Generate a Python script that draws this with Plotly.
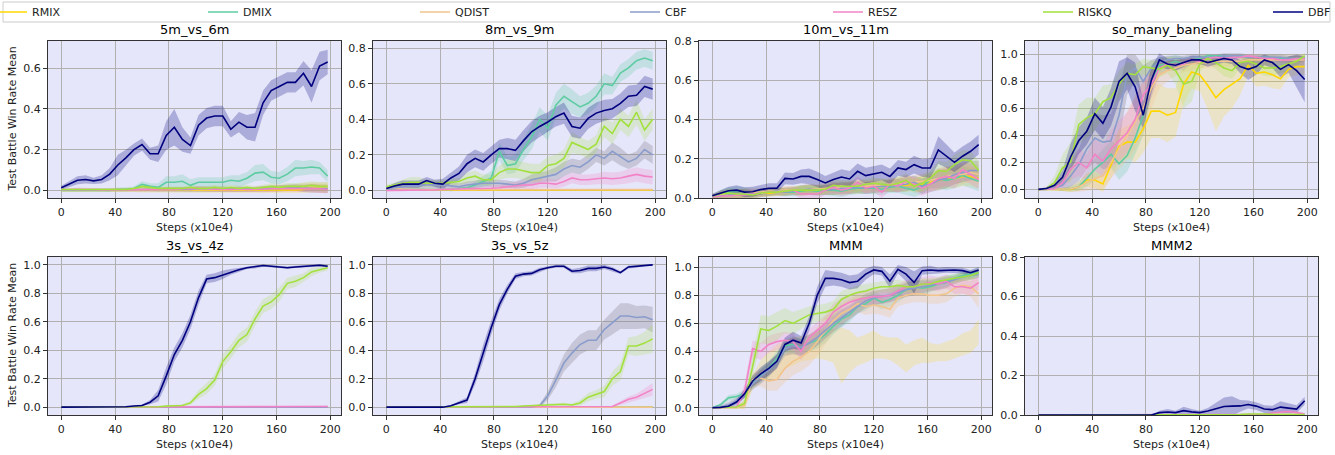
import plotly.graph_objects as go

W, H = 1335, 455
FONT = "DejaVu Sans"

# ---------------- data ----------------
X = list(range(0, 199, 6))  # steps (x10e4), 34 points
ZEROS = [0.0] * 34
METHODS = ["RMIX", "DMIX", "QDIST", "CBF", "RESZ", "RISKQ", "DBF"]
TITLES = ["5m_vs_6m", "8m_vs_9m", "10m_vs_11m", "so_many_baneling",
          "3s_vs_4z", "3s_vs_5z", "MMM", "MMM2"]
X_TICKS = [0, 40, 80, 120, 160, 200]

# --- 5m_vs_6m ---
P1_DBF = [0.013,0.03,0.05,0.054,0.047,0.054,0.08,0.125,0.16,0.20,0.225,0.18,0.18,0.27,0.31,0.25,0.22,0.32,0.355,0.365,0.365,0.30,0.335,0.31,0.31,0.43,0.49,0.51,0.53,0.53,0.575,0.51,0.61,0.63]
P1_DBF_SD = [0.01,0.015,0.02,0.02,0.015,0.02,0.03,0.05,0.04,0.03,0.03,0.03,0.04,0.07,0.09,0.06,0.04,0.05,0.05,0.05,0.05,0.04,0.05,0.06,0.07,0.06,0.05,0.05,0.05,0.05,0.06,0.08,0.07,0.06]
P1_DMIX = [0,0,0,0,0,0,0,0.005,0.005,0.01,0.03,0.02,0.015,0.04,0.04,0.045,0.025,0.04,0.04,0.04,0.04,0.05,0.045,0.06,0.085,0.09,0.065,0.06,0.08,0.11,0.11,0.115,0.11,0.07]
P1_DMIX_SD = [0.005,0.005,0.005,0.005,0.005,0.005,0.005,0.01,0.01,0.01,0.015,0.015,0.02,0.03,0.03,0.035,0.03,0.025,0.025,0.025,0.025,0.025,0.03,0.03,0.04,0.04,0.03,0.03,0.035,0.04,0.035,0.035,0.03,0.03]
P1_RISKQ = [0.005,0.005,0.005,0.005,0.005,0.005,0.005,0.005,0.005,0.01,0.02,0.015,0.01,0.01,0.01,0.01,0.015,0.01,0.01,0.015,0.01,0.015,0.01,0.015,0.01,0.015,0.02,0.015,0.02,0.02,0.02,0.025,0.02,0.02]
P1_RESZ = [0.005,0.005,0.008,0.005,0.005,0.003,0.003,0.003,0.003,0.003,0.005,0.005,0.005,0.005,0.005,0.008,0.01,0.01,0.008,0.005,0.005,0.005,0.008,0.005,0.005,0.005,0.008,0.01,0.01,0.008,0.01,0.01,0.008,0.005]
P1_CBF = [0.003,0.003,0.003,0.003,0.003,0.003,0.003,0.003,0.003,0.003,0.005,0.005,0.005,0.005,0.005,0.005,0.005,0.008,0.008,0.005,0.005,0.005,0.005,0.005,0.005,0.008,0.01,0.01,0.015,0.015,0.01,0.01,0.008,0.008]
P1_RMIX = [0,0,0,0,0,0,0,0,0,0,0,0,0,0,0,0,0,0,0,0,0,0.002,0.002,0.002,0.002,0.002,0.003,0.003,0.003,0.003,0.005,0.01,0.01,0.008]
P1_QDIST = [0.002,0.002,0.002,0.002,0.002,0.002,0.002,0.002,0.002,0.002,0.003,0.003,0.003,0.005,0.005,0.005,0.005,0.005,0.005,0.005,0.005,0.005,0.005,0.005,0.005,0.008,0.01,0.01,0.012,0.015,0.02,0.02,0.02,0.02]
P1_SMALL_SD = [0.005,0.005,0.006,0.006,0.006,0.006,0.007,0.007,0.008,0.008,0.01,0.01,0.01,0.01,0.01,0.01,0.012,0.012,0.012,0.012,0.012,0.012,0.012,0.012,0.012,0.014,0.015,0.015,0.016,0.016,0.018,0.02,0.02,0.02]

# --- 8m_vs_9m ---
P2_DBF = [0.01,0.025,0.035,0.035,0.035,0.055,0.04,0.035,0.07,0.095,0.15,0.18,0.16,0.20,0.235,0.235,0.225,0.28,0.33,0.36,0.385,0.415,0.435,0.36,0.35,0.405,0.435,0.45,0.46,0.49,0.53,0.535,0.585,0.57]
P2_DBF_SD = [0.01,0.015,0.02,0.02,0.02,0.02,0.02,0.03,0.03,0.04,0.05,0.05,0.05,0.05,0.05,0.06,0.06,0.06,0.06,0.06,0.055,0.055,0.06,0.06,0.06,0.06,0.06,0.06,0.055,0.055,0.06,0.06,0.06,0.06]
P2_DMIX = [0.005,0.005,0.005,0.005,0.005,0.005,0.005,0.005,0.005,0.01,0.015,0.03,0.05,0.07,0.22,0.14,0.15,0.23,0.30,0.40,0.35,0.48,0.53,0.50,0.47,0.49,0.53,0.60,0.59,0.66,0.69,0.73,0.745,0.73]
P2_DMIX_SD = [0.005,0.005,0.005,0.005,0.005,0.005,0.005,0.005,0.01,0.01,0.01,0.02,0.03,0.04,0.05,0.05,0.05,0.06,0.07,0.07,0.07,0.07,0.07,0.07,0.06,0.06,0.06,0.06,0.05,0.05,0.05,0.05,0.05,0.05]
P2_RISKQ = [0.02,0.03,0.04,0.045,0.045,0.04,0.04,0.04,0.045,0.05,0.07,0.08,0.06,0.06,0.10,0.12,0.12,0.11,0.10,0.10,0.14,0.15,0.18,0.27,0.25,0.23,0.26,0.36,0.32,0.40,0.36,0.44,0.34,0.40]
P2_RISKQ_SD = [0.01,0.015,0.02,0.03,0.03,0.02,0.02,0.02,0.02,0.02,0.03,0.03,0.03,0.03,0.04,0.05,0.05,0.05,0.05,0.05,0.05,0.05,0.05,0.06,0.05,0.05,0.05,0.06,0.06,0.06,0.06,0.07,0.06,0.06]
P2_CBF = [0.01,0.015,0.02,0.025,0.025,0.03,0.03,0.03,0.025,0.02,0.03,0.035,0.04,0.04,0.04,0.035,0.03,0.04,0.06,0.07,0.08,0.09,0.12,0.14,0.13,0.16,0.20,0.18,0.22,0.19,0.16,0.18,0.23,0.20]
P2_CBF_SD = [0.01,0.01,0.015,0.02,0.02,0.02,0.02,0.02,0.02,0.02,0.02,0.02,0.02,0.02,0.02,0.02,0.02,0.025,0.03,0.03,0.03,0.04,0.04,0.04,0.04,0.04,0.04,0.04,0.05,0.05,0.04,0.04,0.05,0.05]
P2_RESZ = [0.0,0.0,0.0,0.0,0.0,0.003,0.003,0.005,0.005,0.008,0.01,0.01,0.01,0.012,0.015,0.02,0.025,0.03,0.03,0.04,0.04,0.035,0.05,0.07,0.06,0.06,0.065,0.07,0.065,0.07,0.08,0.09,0.08,0.075]
P2_RESZ_SD = [0.005,0.005,0.005,0.005,0.005,0.005,0.005,0.005,0.01,0.01,0.01,0.01,0.01,0.015,0.015,0.02,0.02,0.02,0.025,0.025,0.025,0.025,0.03,0.03,0.03,0.03,0.03,0.035,0.035,0.035,0.04,0.04,0.04,0.04]
P2_RMIX = [0.005,0.003,0.002,0.002,0.002,0.002,0.002,0.002,0.002,0.002,0.002,0.002,0.002,0.002,0.002,0.002,0.002,0.002,0.002,0.002,0.002,0.002,0.002,0.002,0.002,0.002,0.002,0.002,0.002,0.002,0.002,0.002,0.002,0.002]
P2_QDIST = [0.015,0.01,0.008,0.006,0.005,0.005,0.005,0.005,0.005,0.005,0.005,0.005,0.005,0.005,0.005,0.005,0.005,0.005,0.005,0.005,0.005,0.005,0.005,0.005,0.005,0.005,0.005,0.005,0.005,0.005,0.005,0.005,0.005,0.005]
P2_SMALL_SD = [0.006,0.005,0.004,0.004,0.003,0.003,0.003,0.003,0.003,0.003,0.003,0.003,0.003,0.003,0.003,0.003,0.003,0.003,0.003,0.003,0.003,0.003,0.003,0.003,0.003,0.003,0.003,0.003,0.003,0.003,0.003,0.003,0.003,0.003]

# --- 10m_vs_11m ---
P3_DBF = [0.012,0.025,0.037,0.04,0.03,0.032,0.043,0.05,0.05,0.10,0.097,0.11,0.11,0.094,0.077,0.094,0.107,0.097,0.136,0.114,0.124,0.131,0.11,0.153,0.145,0.17,0.153,0.153,0.245,0.213,0.182,0.213,0.238,0.272]
P3_DBF_SD = [0.01,0.015,0.02,0.025,0.025,0.025,0.025,0.025,0.025,0.03,0.03,0.035,0.04,0.04,0.035,0.035,0.04,0.04,0.04,0.04,0.04,0.04,0.04,0.04,0.04,0.045,0.045,0.05,0.07,0.06,0.05,0.05,0.05,0.05]
P3_RISKQ = [0.01,0.02,0.025,0.02,0.02,0.015,0.025,0.03,0.03,0.035,0.04,0.04,0.04,0.04,0.045,0.065,0.06,0.06,0.06,0.07,0.075,0.07,0.065,0.075,0.09,0.06,0.075,0.10,0.14,0.135,0.17,0.195,0.19,0.14]
P3_MID_SD = [0.01,0.02,0.025,0.025,0.025,0.02,0.02,0.02,0.02,0.02,0.02,0.025,0.025,0.025,0.025,0.03,0.03,0.03,0.03,0.03,0.03,0.03,0.03,0.035,0.035,0.035,0.04,0.04,0.05,0.05,0.05,0.05,0.05,0.05]
P3_RESZ = [0.005,0.01,0.01,0.015,0.015,0.02,0.025,0.03,0.03,0.035,0.04,0.02,0.02,0.02,0.04,0.055,0.04,0.05,0.08,0.05,0.06,0.03,0.07,0.06,0.085,0.07,0.05,0.07,0.10,0.11,0.10,0.145,0.12,0.095]
P3_DMIX = [0.005,0.02,0.03,0.035,0.03,0.025,0.03,0.03,0.035,0.03,0.03,0.035,0.04,0.035,0.04,0.04,0.035,0.045,0.05,0.05,0.05,0.045,0.055,0.06,0.05,0.04,0.06,0.09,0.10,0.09,0.10,0.115,0.10,0.085]
P3_CBF = [0.005,0.01,0.015,0.02,0.02,0.02,0.025,0.03,0.035,0.03,0.035,0.04,0.045,0.04,0.04,0.045,0.05,0.05,0.055,0.05,0.055,0.06,0.06,0.065,0.07,0.08,0.06,0.07,0.09,0.10,0.12,0.13,0.14,0.14]
P3_QDIST = [0.005,0.015,0.02,0.02,0.025,0.03,0.03,0.035,0.035,0.04,0.04,0.04,0.045,0.045,0.05,0.05,0.055,0.055,0.06,0.06,0.065,0.065,0.07,0.07,0.075,0.08,0.085,0.09,0.10,0.11,0.12,0.12,0.13,0.12]
P3_RMIX = [0.005,0.01,0.015,0.015,0.02,0.02,0.025,0.025,0.03,0.03,0.035,0.035,0.04,0.04,0.04,0.045,0.045,0.05,0.05,0.055,0.055,0.06,0.06,0.065,0.065,0.07,0.07,0.08,0.09,0.10,0.10,0.11,0.11,0.10]

# --- so_many_baneling ---
P4_DBF = [0.0,0.007,0.03,0.09,0.24,0.36,0.43,0.56,0.49,0.61,0.80,0.86,0.76,0.55,0.81,0.96,0.93,0.92,0.94,0.96,0.96,0.94,0.955,0.97,0.96,0.91,0.89,0.91,0.96,0.94,0.89,0.925,0.88,0.815]
P4_DBF_SD = [0.005,0.01,0.02,0.05,0.1,0.1,0.1,0.12,0.12,0.14,0.15,0.12,0.18,0.1,0.1,0.05,0.04,0.04,0.03,0.03,0.03,0.03,0.03,0.03,0.03,0.05,0.08,0.06,0.04,0.04,0.06,0.06,0.12,0.17]
P4_RISKQ = [0.0,0.005,0.05,0.16,0.2,0.48,0.53,0.56,0.65,0.68,0.78,0.86,0.85,0.91,0.9,0.89,0.92,0.88,0.78,0.80,0.93,0.97,0.94,0.90,0.88,0.94,0.95,0.93,0.90,0.90,0.91,0.93,0.95,0.99]
P4_RISKQ_SD = [0.005,0.01,0.05,0.1,0.15,0.15,0.15,0.12,0.12,0.1,0.1,0.08,0.08,0.06,0.06,0.06,0.06,0.1,0.18,0.15,0.06,0.03,0.05,0.06,0.06,0.04,0.04,0.05,0.06,0.06,0.05,0.05,0.04,0.02]
P4_RMIX = [0,0,0,0,0,0.02,0.07,0.07,0.04,0.18,0.32,0.35,0.35,0.45,0.58,0.58,0.55,0.57,0.78,0.87,0.85,0.77,0.68,0.74,0.78,0.82,0.92,0.86,0.87,0.85,0.82,0.89,0.91,0.91]
P4_RMIX_SD = [0.005,0.005,0.005,0.01,0.02,0.03,0.05,0.06,0.06,0.1,0.12,0.12,0.15,0.18,0.2,0.2,0.2,0.18,0.15,0.12,0.12,0.18,0.25,0.2,0.18,0.12,0.08,0.1,0.1,0.1,0.08,0.06,0.06,0.06]
P4_DMIX = [0,0,0,0,0.005,0.02,0.08,0.15,0.2,0.26,0.19,0.25,0.38,0.55,0.8,0.92,0.93,0.95,0.93,0.96,0.97,0.99,0.99,0.99,0.99,0.99,0.98,0.98,0.98,0.98,0.97,0.97,0.97,0.97]
P4_DMIX_SD = [0.005,0.005,0.005,0.01,0.02,0.03,0.06,0.08,0.1,0.1,0.12,0.12,0.12,0.15,0.12,0.06,0.05,0.05,0.05,0.03,0.02,0.01,0.01,0.01,0.01,0.01,0.02,0.02,0.02,0.02,0.02,0.02,0.02,0.02]
P4_RESZ = [0,0,0.005,0.05,0.15,0.2,0.16,0.26,0.21,0.3,0.36,0.42,0.52,0.7,0.78,0.9,0.93,0.92,0.93,0.96,0.95,0.97,0.98,0.97,0.98,0.98,0.99,0.98,0.97,0.97,0.96,0.96,0.97,0.97]
P4_RESZ_SD = [0.005,0.005,0.01,0.05,0.08,0.1,0.1,0.12,0.12,0.14,0.15,0.15,0.15,0.12,0.1,0.06,0.04,0.04,0.04,0.03,0.03,0.02,0.02,0.02,0.02,0.02,0.01,0.02,0.02,0.02,0.02,0.02,0.02,0.02]
P4_CBF = [0,0,0.01,0.03,0.1,0.18,0.3,0.38,0.35,0.36,0.55,0.85,0.9,0.8,0.9,0.94,0.96,0.97,0.97,0.98,0.98,0.98,0.98,0.99,0.99,0.99,0.98,0.98,0.98,0.98,0.98,0.97,0.97,0.97]
P4_CBF_SD = [0.005,0.005,0.01,0.04,0.08,0.12,0.15,0.18,0.2,0.2,0.2,0.15,0.1,0.12,0.06,0.04,0.03,0.02,0.02,0.02,0.02,0.02,0.02,0.02,0.02,0.02,0.02,0.02,0.02,0.02,0.02,0.02,0.02,0.02]
P4_QDIST = [0,0,0,0,0.005,0.02,0.05,0.08,0.1,0.2,0.3,0.4,0.5,0.6,0.75,0.85,0.88,0.9,0.92,0.93,0.94,0.94,0.95,0.95,0.95,0.95,0.96,0.96,0.96,0.96,0.96,0.96,0.96,0.96]
P4_QDIST_SD = [0.005,0.005,0.005,0.01,0.02,0.04,0.06,0.08,0.1,0.12,0.15,0.18,0.2,0.2,0.15,0.1,0.08,0.06,0.05,0.05,0.04,0.04,0.04,0.04,0.04,0.04,0.04,0.04,0.04,0.04,0.04,0.04,0.04,0.04]

# --- 3s_vs_4z ---
P5_DBF = [0,0,0,0,0,0,0,0,0.003,0.008,0.012,0.035,0.08,0.22,0.37,0.47,0.60,0.77,0.90,0.91,0.93,0.95,0.965,0.98,0.985,0.995,0.99,0.985,0.98,0.985,0.99,0.995,0.997,0.99]
P5_DBF_SD = [0,0,0,0,0,0,0,0,0.002,0.004,0.006,0.015,0.04,0.06,0.05,0.05,0.05,0.05,0.03,0.03,0.03,0.02,0.015,0.01,0.01,0.008,0.008,0.008,0.008,0.008,0.008,0.008,0.008,0.008]
P5_RISKQ = [0,0,0,0,0,0,0,0,0,0,0,0,0.003,0.007,0.01,0.012,0.03,0.09,0.13,0.19,0.32,0.39,0.47,0.51,0.62,0.71,0.74,0.79,0.87,0.885,0.91,0.95,0.965,0.98]
P5_RISKQ_SD = [0,0,0,0,0,0,0,0,0,0,0,0,0.002,0.004,0.005,0.008,0.015,0.03,0.04,0.04,0.05,0.05,0.05,0.05,0.05,0.05,0.05,0.05,0.04,0.04,0.03,0.03,0.02,0.02]
P5_RESZ = [0,0,0,0,0,0,0,0,0,0,0,0,0,0.001,0.001,0.001,0.002,0.002,0.002,0.002,0.002,0.002,0.002,0.002,0.003,0.003,0.003,0.003,0.003,0.004,0.004,0.004,0.005,0.005]
P5_SMALL_SD = [0,0,0,0,0,0,0,0,0,0,0,0,0,0.002,0.002,0.002,0.003,0.003,0.003,0.003,0.003,0.003,0.003,0.003,0.004,0.004,0.004,0.004,0.004,0.005,0.005,0.005,0.006,0.006]

# --- 3s_vs_5z ---
P6_DBF = [0,0,0,0,0,0,0,0,0.01,0.03,0.05,0.2,0.38,0.56,0.72,0.83,0.92,0.935,0.94,0.965,0.98,0.99,0.99,0.955,0.96,0.975,0.975,0.985,0.97,0.945,0.985,0.99,0.997,1.0]
P6_DBF_SD = [0,0,0,0,0,0,0,0,0.005,0.01,0.02,0.04,0.06,0.05,0.04,0.03,0.02,0.015,0.015,0.015,0.01,0.01,0.01,0.015,0.02,0.02,0.02,0.015,0.015,0.01,0.01,0.01,0.005,0.005]
P6_CBF = [0,0,0,0,0,0,0,0,0,0,0,0,0,0,0,0,0,0,0.002,0.01,0.08,0.19,0.31,0.38,0.44,0.47,0.47,0.545,0.59,0.64,0.64,0.63,0.635,0.615]
P6_CBF_SD = [0,0,0,0,0,0,0,0,0,0,0,0,0,0,0,0,0,0,0.002,0.01,0.03,0.05,0.06,0.07,0.07,0.07,0.07,0.07,0.08,0.09,0.09,0.08,0.08,0.09]
P6_RISKQ = [0,0,0,0,0,0,0,0,0,0,0,0,0,0,0,0,0.005,0.008,0.01,0.012,0.015,0.02,0.02,0.015,0.03,0.07,0.09,0.11,0.2,0.25,0.43,0.43,0.45,0.48]
P6_RISKQ_SD = [0,0,0,0,0,0,0,0,0,0,0,0,0,0,0,0,0.003,0.005,0.005,0.008,0.01,0.01,0.01,0.01,0.02,0.03,0.03,0.04,0.05,0.06,0.06,0.07,0.08,0.1]
P6_RESZ = [0,0,0,0,0,0,0,0,0,0,0,0,0,0,0,0,0,0,0,0,0,0,0,0,0,0,0,0,0.005,0.03,0.055,0.07,0.1,0.125]
P6_RESZ_SD = [0,0,0,0,0,0,0,0,0,0,0,0,0,0,0,0,0,0,0,0,0,0,0,0,0,0,0,0,0.005,0.015,0.02,0.025,0.035,0.045]

# --- MMM ---
P7_DBF = [0,0.002,0.01,0.04,0.1,0.19,0.24,0.28,0.33,0.45,0.48,0.46,0.6,0.8,0.92,0.92,0.91,0.89,0.9,0.95,0.98,0.97,0.9,0.985,0.95,0.89,0.975,0.98,0.975,0.98,0.98,0.975,0.96,0.98]
P7_DBF_SD = [0.002,0.005,0.01,0.02,0.03,0.04,0.05,0.05,0.05,0.05,0.06,0.05,0.05,0.06,0.06,0.05,0.05,0.05,0.05,0.04,0.03,0.03,0.05,0.03,0.05,0.08,0.03,0.03,0.02,0.02,0.02,0.02,0.02,0.02]
P7_RISKQ = [0,0,0,0.005,0.03,0.3,0.56,0.55,0.58,0.62,0.6,0.63,0.66,0.67,0.68,0.7,0.77,0.8,0.82,0.83,0.85,0.86,0.86,0.87,0.86,0.86,0.88,0.88,0.9,0.91,0.92,0.93,0.94,0.96]
P7_RISKQ_SD = [0.002,0.002,0.005,0.01,0.03,0.08,0.1,0.1,0.1,0.09,0.08,0.07,0.06,0.06,0.06,0.06,0.06,0.05,0.05,0.05,0.04,0.04,0.04,0.04,0.04,0.04,0.04,0.04,0.03,0.03,0.03,0.03,0.03,0.03]
P7_RESZ = [0,0,0,0.005,0.12,0.42,0.4,0.45,0.47,0.48,0.47,0.4,0.5,0.55,0.6,0.68,0.72,0.75,0.77,0.78,0.79,0.79,0.8,0.83,0.86,0.86,0.88,0.89,0.88,0.9,0.86,0.86,0.85,0.89]
P7_RESZ_SD = [0.002,0.002,0.005,0.01,0.05,0.06,0.06,0.06,0.06,0.06,0.06,0.06,0.06,0.06,0.06,0.06,0.06,0.05,0.05,0.05,0.05,0.05,0.05,0.05,0.05,0.05,0.05,0.05,0.05,0.05,0.05,0.05,0.05,0.05]
P7_DMIX = [0,0.02,0.07,0.08,0.1,0.18,0.23,0.28,0.35,0.44,0.45,0.43,0.46,0.48,0.52,0.58,0.63,0.66,0.72,0.74,0.78,0.75,0.77,0.8,0.84,0.86,0.85,0.86,0.88,0.9,0.92,0.94,0.95,0.96]
P7_DMIX_SD = [0.005,0.01,0.02,0.02,0.03,0.04,0.05,0.05,0.05,0.05,0.06,0.06,0.06,0.06,0.06,0.06,0.06,0.05,0.05,0.05,0.05,0.05,0.05,0.05,0.05,0.05,0.05,0.04,0.04,0.04,0.03,0.03,0.03,0.03]
P7_CBF = [0,0.005,0.02,0.05,0.1,0.17,0.22,0.27,0.33,0.42,0.44,0.43,0.46,0.5,0.55,0.6,0.64,0.68,0.72,0.76,0.78,0.79,0.8,0.82,0.84,0.85,0.86,0.87,0.88,0.89,0.91,0.93,0.94,0.95]
P7_QDIST = [0,0,0,0,0.02,0.2,0.21,0.19,0.2,0.28,0.33,0.36,0.4,0.47,0.55,0.62,0.67,0.7,0.74,0.72,0.73,0.72,0.7,0.78,0.8,0.81,0.81,0.8,0.8,0.81,0.85,0.87,0.86,0.81]
P7_QDIST_SD = [0.002,0.002,0.005,0.01,0.03,0.05,0.06,0.07,0.08,0.1,0.1,0.1,0.1,0.1,0.1,0.08,0.07,0.07,0.06,0.06,0.06,0.06,0.06,0.06,0.06,0.06,0.06,0.06,0.06,0.06,0.06,0.06,0.07,0.1]
P7_RMIX = [0,0,0,0,0.02,0.18,0.27,0.3,0.33,0.38,0.4,0.42,0.43,0.45,0.45,0.44,0.37,0.4,0.4,0.42,0.45,0.43,0.42,0.40,0.35,0.39,0.41,0.39,0.39,0.4,0.42,0.45,0.47,0.54]
P7_RMIX_SD = [0.002,0.002,0.005,0.01,0.03,0.05,0.07,0.1,0.12,0.1,0.1,0.09,0.09,0.1,0.11,0.12,0.2,0.15,0.1,0.1,0.1,0.08,0.08,0.1,0.1,0.09,0.09,0.07,0.06,0.07,0.07,0.08,0.08,0.09]

# --- MMM2 ---
P8_DBF = [0,0,0,0,0,0,0,0,0,0,0,0,0,0,0,0.012,0.015,0.012,0.022,0.016,0.012,0.02,0.032,0.043,0.045,0.046,0.053,0.045,0.03,0.027,0.04,0.035,0.03,0.072]
P8_DBF_SD = [0,0,0,0,0,0,0,0,0,0,0,0,0,0,0,0.01,0.015,0.01,0.02,0.015,0.01,0.015,0.03,0.045,0.05,0.03,0.02,0.02,0.02,0.02,0.03,0.025,0.02,0.02]
P8_RESZ = [0,0,0,0,0,0,0,0,0,0,0,0,0,0,0,0,0,0,0,0,0,0,0,0,0,0,0,0,0.003,0.01,0.015,0.018,0.012,0.005]
P8_RESZ_SD = [0,0,0,0,0,0,0,0,0,0,0,0,0,0,0,0,0,0,0,0,0,0,0,0,0,0,0,0,0.003,0.008,0.01,0.012,0.01,0.005]
P8_RISKQ = [0,0,0,0,0,0,0,0,0,0,0,0,0,0,0,0,0,0,0,0,0,0,0,0,0,0.002,0.005,0.006,0.005,0.003,0.002,0.002,0.002,0.002]

# (mean, sd) per method for each panel
PANEL_DATA = [
    {"RMIX": (P1_RMIX, P1_SMALL_SD), "DMIX": (P1_DMIX, P1_DMIX_SD), "QDIST": (P1_QDIST, P1_SMALL_SD),
     "CBF": (P1_CBF, P1_SMALL_SD), "RESZ": (P1_RESZ, P1_SMALL_SD), "RISKQ": (P1_RISKQ, P1_SMALL_SD),
     "DBF": (P1_DBF, P1_DBF_SD)},
    {"RMIX": (P2_RMIX, P2_SMALL_SD), "DMIX": (P2_DMIX, P2_DMIX_SD), "QDIST": (P2_QDIST, P2_SMALL_SD),
     "CBF": (P2_CBF, P2_CBF_SD), "RESZ": (P2_RESZ, P2_RESZ_SD), "RISKQ": (P2_RISKQ, P2_RISKQ_SD),
     "DBF": (P2_DBF, P2_DBF_SD)},
    {"RMIX": (P3_RMIX, P3_MID_SD), "DMIX": (P3_DMIX, P3_MID_SD), "QDIST": (P3_QDIST, P3_MID_SD),
     "CBF": (P3_CBF, P3_MID_SD), "RESZ": (P3_RESZ, P3_MID_SD), "RISKQ": (P3_RISKQ, P3_MID_SD),
     "DBF": (P3_DBF, P3_DBF_SD)},
    {"RMIX": (P4_RMIX, P4_RMIX_SD), "DMIX": (P4_DMIX, P4_DMIX_SD), "QDIST": (P4_QDIST, P4_QDIST_SD),
     "CBF": (P4_CBF, P4_CBF_SD), "RESZ": (P4_RESZ, P4_RESZ_SD), "RISKQ": (P4_RISKQ, P4_RISKQ_SD),
     "DBF": (P4_DBF, P4_DBF_SD)},
    {"RMIX": (ZEROS, ZEROS), "DMIX": (ZEROS, ZEROS), "QDIST": (ZEROS, ZEROS),
     "CBF": (ZEROS, ZEROS), "RESZ": (P5_RESZ, P5_SMALL_SD), "RISKQ": (P5_RISKQ, P5_RISKQ_SD),
     "DBF": (P5_DBF, P5_DBF_SD)},
    {"RMIX": (ZEROS, ZEROS), "DMIX": (ZEROS, ZEROS), "QDIST": (ZEROS, ZEROS),
     "CBF": (P6_CBF, P6_CBF_SD), "RESZ": (P6_RESZ, P6_RESZ_SD), "RISKQ": (P6_RISKQ, P6_RISKQ_SD),
     "DBF": (P6_DBF, P6_DBF_SD)},
    {"RMIX": (P7_RMIX, P7_RMIX_SD), "DMIX": (P7_DMIX, P7_DMIX_SD), "QDIST": (P7_QDIST, P7_QDIST_SD),
     "CBF": (P7_CBF, P7_DMIX_SD), "RESZ": (P7_RESZ, P7_RESZ_SD), "RISKQ": (P7_RISKQ, P7_RISKQ_SD),
     "DBF": (P7_DBF, P7_DBF_SD)},
    {"RMIX": (ZEROS, ZEROS), "DMIX": (ZEROS, ZEROS), "QDIST": (ZEROS, ZEROS),
     "CBF": (ZEROS, ZEROS), "RESZ": (P8_RESZ, P8_RESZ_SD), "RISKQ": (P8_RISKQ, P8_RESZ_SD),
     "DBF": (P8_DBF, P8_DBF_SD)},
]
HIDDEN_MEAN_LINES = {(6, "RMIX")}  # MMM: only RMIX band visible

# ---------------- styles ----------------
LINE_COLORS = {"RMIX": "#FFD700", "DMIX": "#5ECCA2", "QDIST": "#F2C48C", "CBF": "#8A9CCB",
               "RESZ": "#F283C6", "RISKQ": "#A2E03E", "DBF": "#00007F"}
BAND_COLORS = {"RMIX": "rgba(255,215,0,0.2)", "DMIX": "rgba(94,204,162,0.25)",
               "QDIST": "rgba(242,196,140,0.3)", "CBF": "rgba(125,125,140,0.3)",
               "RESZ": "rgba(242,131,198,0.25)", "RISKQ": "rgba(162,224,62,0.22)",
               "DBF": "rgba(0,0,128,0.25)"}
Y_RANGES = [(-0.037, 0.733), (-0.043, 0.841), (0, 0.8), (-0.064, 1.1),
            (-0.055, 1.055), (-0.055, 1.055), (-0.052, 1.072), (0, 0.8)]
Y_TICKS = [[0, 0.2, 0.4, 0.6], [0, 0.2, 0.4, 0.6, 0.8], [0, 0.2, 0.4, 0.6, 0.8],
           [0, 0.2, 0.4, 0.6, 0.8, 1.0], [0, 0.2, 0.4, 0.6, 0.8, 1.0], [0, 0.2, 0.4, 0.6, 0.8, 1.0],
           [0, 0.2, 0.4, 0.6, 0.8, 1.0], [0, 0.2, 0.4, 0.6, 0.8]]
COL_PX = [(48, 341), (373, 666), (699, 992), (1025, 1318)]
ROW_PX = [(41, 198), (257, 415)]
LEGEND_TEXT_PX = [32, 243, 455, 665, 868, 1078, 1308]  # left edge of legend labels
LEGEND_TEXT_OFFSET = 40  # px from legend x to its label in plotly

fig = go.Figure()

def px_x(v):
    return v / W

def px_y(v):
    return 1 - v / H

layout = dict(width=W, height=H, margin=dict(l=0, r=0, t=0, b=0, autoexpand=False),
              paper_bgcolor="white", plot_bgcolor="#E6E6FA",
              font=dict(family=FONT, size=11, color="black"))
annotations = []

for i, title in enumerate(TITLES):
    r, c = divmod(i, 4)
    ax = "" if i == 0 else str(i + 1)
    xa, ya = "x" + ax, "y" + ax
    data = PANEL_DATA[i]
    for m in METHODS:
        mean, sd = data[m]
        up = [a + b for a, b in zip(mean, sd)]
        lo = [a - b for a, b in zip(mean, sd)]
        fig.add_trace(go.Scatter(x=X + X[::-1], y=up + lo[::-1], fill="toself",
                                 fillcolor=BAND_COLORS[m], line=dict(width=0),
                                 mode="lines", hoverinfo="skip", showlegend=False,
                                 xaxis=xa, yaxis=ya))
    for k, m in enumerate(METHODS):
        mean, sd = data[m]
        hidden = (i, m) in HIDDEN_MEAN_LINES
        fig.add_trace(go.Scatter(x=X, y=mean, mode="lines", name=m, legendgroup=m,
                                 legend="legend" + ("" if k == 0 else str(k + 1)),
                                 line=dict(color=LINE_COLORS[m], width=0 if hidden else 1.6),
                                 showlegend=(i == 0), xaxis=xa, yaxis=ya))
    x0, x1 = COL_PX[c]
    y0, y1 = ROW_PX[r]
    layout["xaxis" + ax] = dict(domain=[px_x(x0), px_x(x1)], anchor=ya, range=[-9.9, 207.9],
                                tickvals=X_TICKS, ticks="outside", ticklen=4, tickwidth=1,
                                tickcolor="#333", showline=True, mirror=True, linecolor="#333",
                                linewidth=1, showgrid=True, gridcolor="#B0B0B0", gridwidth=1,
                                zeroline=False, tickfont=dict(size=11, color="#222"))
    layout["yaxis" + ax] = dict(domain=[px_y(y1), px_y(y0)], anchor=xa, range=list(Y_RANGES[i]),
                                tickvals=Y_TICKS[i], tickformat=".1f", ticks="outside", ticklen=4,
                                tickwidth=1, tickcolor="#333", showline=True, mirror=True,
                                linecolor="#333", linewidth=1, showgrid=True, gridcolor="#B0B0B0",
                                gridwidth=1, zeroline=False, tickfont=dict(size=11, color="#222"))
    cx = (x0 + x1) / 2
    annotations.append(dict(text=title, x=px_x(cx), y=px_y(y0 - 11), xref="paper", yref="paper",
                            xanchor="center", yanchor="middle", showarrow=False,
                            font=dict(size=13, color="black")))
    annotations.append(dict(text="Steps (x10e4)", x=px_x(cx), y=px_y(y1 + 29), xref="paper",
                            yref="paper", xanchor="center", yanchor="middle", showarrow=False,
                            font=dict(size=11, color="#222")))
    if c == 0:
        annotations.append(dict(text="Test Battle Win Rate Mean", x=px_x(12), y=px_y((y0 + y1) / 2),
                                xref="paper", yref="paper", xanchor="center", yanchor="middle",
                                textangle=-90, showarrow=False, font=dict(size=11, color="#222")))

layout["annotations"] = annotations
layout["shapes"] = [dict(type="rect", xref="paper", yref="paper", x0=px_x(3), x1=px_x(1330),
                         y0=px_y(22), y1=px_y(2), line=dict(color="#CCCCCC", width=1),
                         fillcolor="white", layer="below")]
for k, tx in enumerate(LEGEND_TEXT_PX):
    key = "legend" + ("" if k == 0 else str(k + 1))
    layout[key] = dict(orientation="h", x=px_x(tx - LEGEND_TEXT_OFFSET), xanchor="left",
                       y=px_y(12), yanchor="middle", bgcolor="rgba(0,0,0,0)",
                       font=dict(size=11, color="#222"))
layout["showlegend"] = True
fig.update_layout(**layout)

# remove the browser's default 8px body margin so the figure sits at the page origin
fig.write_html("out.html", config={"displayModeBar": False},
               post_script="document.body.style.margin='0';")
